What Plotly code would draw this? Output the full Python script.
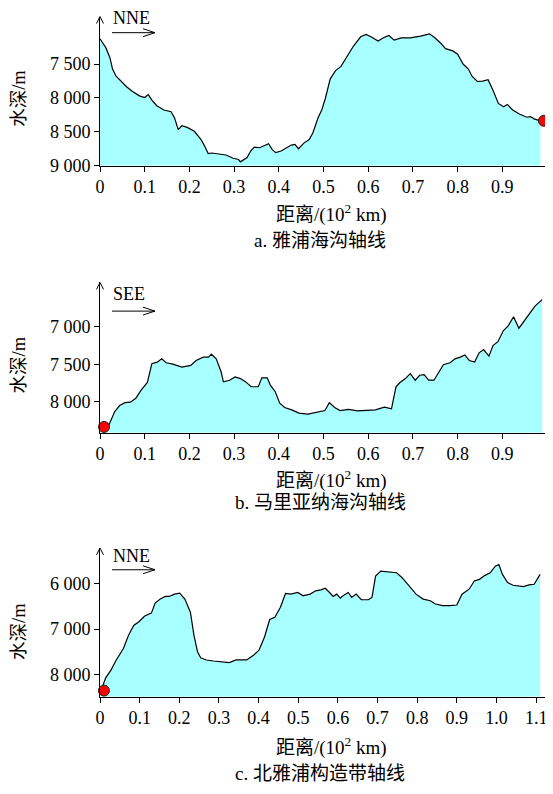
import plotly.graph_objects as go

# ---------------- data ----------------
# Panel a: 雅浦海沟轴线
a_dist = [0.000, 0.013, 0.022, 0.028, 0.036, 0.048, 0.060, 0.072, 0.088, 0.100, 0.108, 0.116,
          0.127, 0.143, 0.159, 0.167, 0.175, 0.183, 0.195, 0.211, 0.226, 0.234, 0.242, 0.250,
          0.266, 0.282, 0.298, 0.310, 0.314, 0.321, 0.329, 0.337, 0.345, 0.357, 0.369, 0.377,
          0.385, 0.393, 0.405, 0.416, 0.428, 0.436, 0.444, 0.456, 0.468, 0.476, 0.488, 0.496,
          0.504, 0.515, 0.527, 0.539, 0.551, 0.567, 0.583, 0.595, 0.606, 0.622, 0.634, 0.646,
          0.658, 0.674, 0.694, 0.717, 0.737, 0.749, 0.761, 0.773, 0.789, 0.800, 0.812, 0.824,
          0.832, 0.844, 0.856, 0.868, 0.879, 0.891, 0.903, 0.911, 0.923, 0.939, 0.955, 0.963,
          0.971, 0.985]
a_depth = [7127, 7258, 7403, 7573, 7679, 7766, 7839, 7902, 7969, 7994, 7950, 8032,
           8115, 8178, 8202, 8299, 8468, 8410, 8434, 8492, 8613, 8710, 8821, 8812,
           8831, 8841, 8889, 8908, 8942, 8918, 8879, 8783, 8725, 8734, 8705, 8676,
           8758, 8807, 8783, 8744, 8695, 8686, 8749, 8666, 8613, 8516, 8289, 8178,
           8008, 7718, 7597, 7534, 7403, 7234, 7098, 7064, 7098, 7161, 7113, 7079,
           7147, 7113, 7113, 7089, 7055, 7113, 7185, 7273, 7306, 7355, 7500, 7573,
           7679, 7757, 7752, 7732, 7887, 8081, 8129, 8095, 8178, 8241, 8284, 8274,
           8308, 8337]
a_point = ([0.993], [8337])

# Panel b: 马里亚纳海沟轴线
b_dist = [0.009, 0.017, 0.025, 0.033, 0.044, 0.056, 0.068, 0.080, 0.092, 0.106, 0.116, 0.128,
          0.138, 0.148, 0.163, 0.183, 0.203, 0.215, 0.231, 0.243, 0.249, 0.260, 0.271, 0.276,
          0.290, 0.302, 0.314, 0.326, 0.338, 0.354, 0.362, 0.374, 0.381, 0.392, 0.402, 0.413,
          0.429, 0.445, 0.465, 0.485, 0.503, 0.513, 0.525, 0.537, 0.556, 0.576, 0.596, 0.616,
          0.636, 0.652, 0.662, 0.671, 0.683, 0.694, 0.705, 0.715, 0.725, 0.735, 0.747, 0.759,
          0.768, 0.783, 0.794, 0.806, 0.816, 0.826, 0.838, 0.848, 0.858, 0.870, 0.879, 0.890,
          0.902, 0.913, 0.925, 0.937, 0.949, 0.961, 0.973, 0.989]
b_depth = [8376, 8345, 8236, 8127, 8048, 8009, 8004, 7952, 7843, 7742, 7493, 7472,
           7428, 7480, 7498, 7537, 7515, 7450, 7406, 7406, 7367, 7428, 7603, 7734,
           7712, 7668, 7690, 7734, 7799, 7799, 7681, 7681, 7777, 7865, 8017, 8074,
           8105, 8149, 8162, 8135, 8114, 8009, 8074, 8114, 8100, 8118, 8109, 8105,
           8070, 8092, 7799, 7742, 7690, 7624, 7712, 7646, 7638, 7712, 7712, 7603,
           7507, 7480, 7428, 7406, 7376, 7450, 7472, 7349, 7306, 7393, 7253, 7201,
           7057, 6991, 6869, 7022, 6926, 6817, 6729, 6642]
b_point = ([0.009], [8332])

# Panel c: 北雅浦构造带轴线
c_dist = [0.005, 0.014, 0.028, 0.041, 0.059, 0.072, 0.085, 0.099, 0.112, 0.130, 0.139, 0.152,
          0.165, 0.174, 0.188, 0.201, 0.214, 0.228, 0.237, 0.246, 0.254, 0.268, 0.286, 0.303,
          0.326, 0.343, 0.370, 0.388, 0.401, 0.415, 0.428, 0.441, 0.455, 0.468, 0.481, 0.499,
          0.512, 0.530, 0.544, 0.557, 0.568, 0.579, 0.588, 0.597, 0.606, 0.615, 0.626, 0.635,
          0.646, 0.659, 0.677, 0.686, 0.695, 0.708, 0.726, 0.748, 0.762, 0.779, 0.797, 0.815,
          0.833, 0.846, 0.864, 0.882, 0.900, 0.913, 0.931, 0.944, 0.957, 0.971, 0.984, 0.997,
          1.006, 1.015, 1.028, 1.042, 1.055, 1.068, 1.082, 1.095, 1.110]
c_depth = [8287, 8071, 7891, 7675, 7424, 7136, 6920, 6834, 6719, 6647, 6431, 6345,
           6288, 6288, 6237, 6216, 6345, 6633, 7136, 7496, 7625, 7675, 7697, 7711,
           7733, 7675, 7675, 7567, 7460, 7172, 6791, 6741, 6525, 6223, 6237, 6201,
           6273, 6237, 6165, 6144, 6108, 6201, 6288, 6237, 6324, 6259, 6201, 6309,
           6237, 6360, 6360, 6309, 5842, 5734, 5748, 5770, 5878, 6058, 6237, 6345,
           6381, 6453, 6489, 6489, 6475, 6237, 6129, 5950, 5914, 5827, 5770, 5626,
           5590, 5806, 5986, 6043, 6058, 6072, 6036, 6022, 5806]
c_point = ([0.010], [8344])

# axis ranges / ticks
a_yrange = [9000, 6800]
b_yrange = [8410, 6415]
c_yrange = [8480, 5230]
a_yticks = [7500, 8000, 8500, 9000]
b_yticks = [7000, 7500, 8000]
c_yticks = [6000, 7000, 8000]
ab_xticks = [0, 0.1, 0.2, 0.3, 0.4, 0.5, 0.6, 0.7, 0.8, 0.9]
c_xticks = [0, 0.1, 0.2, 0.3, 0.4, 0.5, 0.6, 0.7, 0.8, 0.9, 1.0, 1.1]
ab_xrange = [0, 1.011]
c_xrange = [0, 1.140]

titles = ["a. 雅浦海沟轴线", "b. 马里亚纳海沟轴线", "c. 北雅浦构造带轴线"]
directions = ["NNE", "SEE", "NNE"]
ylabel = "水深/m"
xlabel = "距离/(10<sup>2</sup> km)"

# ---------------- layout helpers ----------------
# the page body has an 8px margin, so the figure starts at page (8, 8)
OFF = 8
W, H = 545, 786
ML, MR = 100 - OFF, 1
PW = W - ML - MR


def px(x):
    return (x - OFF - ML) / PW


def py(y):
    return 1 - (y - OFF) / H


FONT = "Liberation Serif, 'Times New Roman', 'Noto Sans CJK SC', serif"
CJK = "'Liberation Serif', 'Noto Sans CJK SC', serif"
FILL = "#a8ffff"


def fmt(v):
    return f"{v:,}".replace(",", " ")


def xfmt(v):
    return "0" if v == 0 else f"{v:.1f}"


panels = [
    (a_dist, a_depth, a_point, a_yrange, a_yticks, ab_xticks, ab_xrange, 16.7, 167.8,
     dict(dir_y=18, arr_y=33, yl_y=100, xl_y=216, t_y=243)),
    (b_dist, b_depth, b_point, b_yrange, b_yticks, ab_xticks, ab_xrange, 286, 438.3,
     dict(dir_y=298, arr_y=315, yl_y=370, xl_y=486, t_y=509)),
    (c_dist, c_depth, c_point, c_yrange, c_yticks, c_xticks, c_xrange, 555, 705.7,
     dict(dir_y=563, arr_y=577, yl_y=640, xl_y=756, t_y=783)),
]

fig = go.Figure()
shapes = []
annotations = []
layout_axes = {}

for i, (dist, depth, point, yr, yt, xt, xr, top, bot, pos) in enumerate(panels):
    n = "" if i == 0 else str(i + 1)
    xa, ya = "x" + n, "y" + n
    base = [yr[0]] * len(dist)
    fig.add_trace(go.Scatter(x=dist, y=base, mode="lines", line=dict(width=0),
                             hoverinfo="skip", showlegend=False, xaxis=xa, yaxis=ya))
    fig.add_trace(go.Scatter(x=dist, y=depth, mode="lines", fill="tonexty",
                             fillcolor=FILL, line=dict(color="black", width=1.2),
                             showlegend=False, xaxis=xa, yaxis=ya))
    fig.add_trace(go.Scatter(x=point[0], y=point[1], mode="markers", cliponaxis=False,
                             marker=dict(color="#ff0000", size=11,
                                         line=dict(color="#222", width=1)),
                             showlegend=False, xaxis=xa, yaxis=ya))
    dom = [py(bot), py(top)]
    layout_axes["xaxis" + n] = dict(
        domain=[0, 1], range=xr, anchor=ya, showline=True, linecolor="black", linewidth=1,
        ticks="outside", ticklen=5, tickcolor="black", tickvals=xt,
        ticktext=[xfmt(v) for v in xt], showgrid=False, zeroline=False,
        tickfont=dict(family=FONT, size=18, color="black"), fixedrange=True)
    layout_axes["yaxis" + n] = dict(
        domain=dom, range=yr, anchor=xa, showline=True, linecolor="black", linewidth=1,
        ticks="outside", ticklen=5, tickcolor="black", tickvals=yt,
        ticktext=[fmt(v) for v in yt], showgrid=False, zeroline=False,
        tickfont=dict(family=FONT, size=18, color="black"), fixedrange=True)

    # axis arrowheads (open V)
    shapes.append(dict(type="path", xref="paper", yref="paper",
                       path=f"M {px(96.5)} {py(top + 7)} L {px(100)} {py(top)} L {px(103.5)} {py(top + 7)}",
                       line=dict(color="black", width=1)))
    shapes.append(dict(type="path", xref="paper", yref="paper",
                       path=f"M {px(545)} {py(bot - 3.5)} L {px(552)} {py(bot)} L {px(545)} {py(bot + 3.5)}",
                       line=dict(color="black", width=1)))
    # direction arrow
    ay = pos["arr_y"]
    shapes.append(dict(type="line", xref="paper", yref="paper",
                       x0=px(112), x1=px(155), y0=py(ay), y1=py(ay),
                       line=dict(color="black", width=1)))
    shapes.append(dict(type="path", xref="paper", yref="paper",
                       path=f"M {px(143)} {py(ay - 4)} L {px(155)} {py(ay)} L {px(143)} {py(ay + 4)}",
                       line=dict(color="black", width=1)))
    annotations.append(dict(text=directions[i], xref="paper", yref="paper", x=px(111),
                            y=py(pos["dir_y"]), xanchor="left", yanchor="middle",
                            showarrow=False, font=dict(family=FONT, size=18, color="black")))
    annotations.append(dict(text=ylabel, xref="paper", yref="paper", x=px(19),
                            y=py(pos["yl_y"]), xanchor="center", yanchor="middle",
                            textangle=-90, showarrow=False,
                            font=dict(family=CJK, size=18.5, color="black")))
    annotations.append(dict(text=xlabel, xref="paper", yref="paper", x=px(331),
                            y=py(pos["xl_y"]), xanchor="center", yanchor="middle",
                            showarrow=False, font=dict(family=CJK, size=19, color="black")))
    annotations.append(dict(text=titles[i], xref="paper", yref="paper", x=px(320),
                            y=py(pos["t_y"]), xanchor="center", yanchor="middle",
                            showarrow=False, font=dict(family=CJK, size=19, color="black")))

fig.update_layout(
    width=W, height=H, margin=dict(l=ML, r=MR, t=0, b=0),
    paper_bgcolor="white", plot_bgcolor="white",
    shapes=shapes, annotations=annotations, showlegend=False,
    **layout_axes)

fig.write_html("out.html")
